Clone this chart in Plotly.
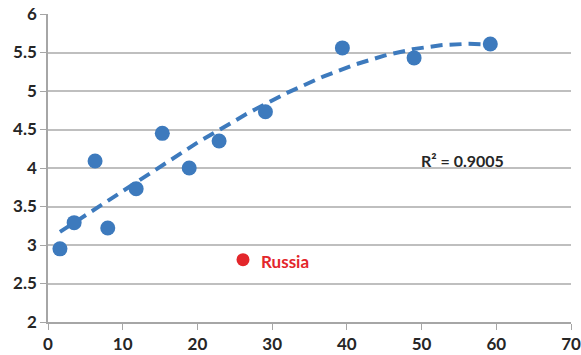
import numpy as np
import plotly.graph_objects as go

x_vals = [1.6, 3.5, 6.3, 8.0, 11.8, 15.3, 18.9, 22.9, 29.1, 39.4, 49.0, 59.2]
y_vals = [2.95, 3.29, 4.09, 3.22, 3.73, 4.45, 4.00, 4.35, 4.73, 5.56, 5.43, 5.61]
russia_x = [26.1]
russia_y = [2.81]
russia_label = "Russia"
r2_text = "R² = 0.9005"
x_ticks = [0, 10, 20, 30, 40, 50, 60, 70]
y_ticks = [2, 2.5, 3, 3.5, 4, 4.5, 5, 5.5, 6]

BLUE = "#3d7abd"
RED = "#e3262b"
TXT = "#262626"
FONT = "Lato"

# polynomial (order 3) trendline fitted to the blue series
coef = np.polyfit(x_vals, y_vals, 3)
tx = np.linspace(min(x_vals), max(x_vals), 200)
ty = np.polyval(coef, tx)

fig = go.Figure()
fig.add_trace(go.Scatter(x=tx, y=ty, mode="lines",
                         line=dict(color=BLUE, width=4, dash="12px,7px"),
                         hoverinfo="skip"))
fig.add_trace(go.Scatter(x=x_vals, y=y_vals, mode="markers",
                         marker=dict(color=BLUE, size=15)))
fig.add_trace(go.Scatter(x=russia_x, y=russia_y, mode="markers",
                         marker=dict(color=RED, size=13)))
fig.add_annotation(x=russia_x[0], y=russia_y[0], text=russia_label, showarrow=False,
                   xanchor="left", yanchor="middle", xshift=16, yshift=-2,
                   font=dict(color=RED, size=17, family=FONT, weight="bold"))
fig.add_annotation(x=55.5, y=4.1, text=r2_text, showarrow=False,
                   xanchor="center", yanchor="middle",
                   font=dict(color=TXT, size=16, family=FONT, weight="bold"))

fig.update_layout(
    width=581, height=355,
    margin=dict(l=48, r=10, t=14, b=33),
    plot_bgcolor="white", paper_bgcolor="white",
    showlegend=False,
    font=dict(family=FONT, size=17, color=TXT, weight="bold"),
)
fig.update_xaxes(range=[0, 70], tickvals=x_ticks, showgrid=False, automargin=False,
                 showline=True, linecolor="#a6a6a6", linewidth=1.5,
                 ticks="outside", ticklen=6, tickcolor="#a6a6a6",
                 zeroline=False, tickfont=dict(size=17, family=FONT, weight="bold"))
fig.update_yaxes(range=[2, 6], tickvals=y_ticks, showgrid=True, automargin=False,
                 gridcolor="#bfbfbf", gridwidth=1.5,
                 showline=True, linecolor="#a6a6a6", linewidth=1.5,
                 ticks="outside", ticklen=6, tickcolor="#a6a6a6",
                 zeroline=False, tickfont=dict(size=17, family=FONT, weight="bold"))

fig.write_html("out.html")
